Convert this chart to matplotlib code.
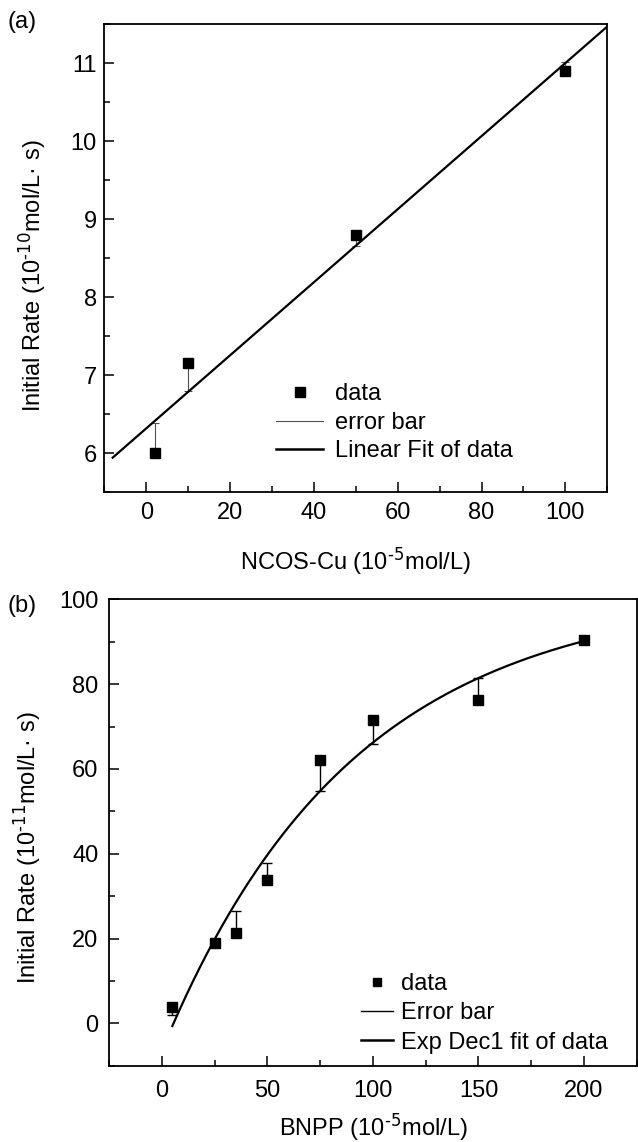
import numpy as np
import matplotlib
matplotlib.use("Agg")
import matplotlib.pyplot as plt
from matplotlib.lines import Line2D
from matplotlib.ticker import MultipleLocator

plt.rcParams['font.family'] = ['Liberation Sans', 'DejaVu Sans']
plt.rcParams['mathtext.default'] = 'regular'

# ---------------- data: panel (a) ----------------
conc_a = [2, 10, 50, 100]
rate_a = [6.0, 7.15, 8.8, 10.9]
err_end_a = [6.39, 6.79, 8.65, 11.01]
fit_range_a = [-8, 110]
legend_a = ["data", "error bar", "Linear Fit of data"]
xlabel_a = r"NCOS-Cu (10$^{\text{-5}}$mol/L)"
ylabel_a = r"Initial Rate (10$^{\text{-10}}$mol/L· s)"
xticks_a = [0, 20, 40, 60, 80, 100]
yticks_a = [6, 7, 8, 9, 10, 11]

# ---------------- data: panel (b) ----------------
conc_b = [5, 25, 35, 50, 75, 100, 150, 200]
rate_b = [3.9, 18.9, 21.4, 33.8, 62.1, 71.5, 76.3, 90.4]
err_end_b = [1.9, 18.9, 26.4, 37.9, 54.8, 65.8, 81.4, 90.4]
fit_range_b = [5, 200]
expdec_y0 = 101.9
expdec_A = 108.4
expdec_t = 90.0
legend_b = ["data", "Error bar", "Exp Dec1 fit of data"]
xlabel_b = r"BNPP (10$^{\text{-5}}$mol/L)"
ylabel_b = r"Initial Rate (10$^{\text{-11}}$mol/L· s)"
xticks_b = [0, 50, 100, 150, 200]
yticks_b = [0, 20, 40, 60, 80, 100]

W, H = 638, 1142
fig = plt.figure(figsize=(W / 100, H / 100), dpi=100)

FS = 17


def px_axes(l, t, r, b):
    return fig.add_axes([l / W, 1 - b / H, (r - l) / W, (b - t) / H])


def style(ax, xpad, ypad):
    for s in ax.spines.values():
        s.set_linewidth(1.3)
    ax.tick_params(which='both', direction='in', top=False, right=False,
                   labelsize=FS, width=1.1)
    ax.tick_params(which='major', length=7.2)
    ax.tick_params(which='minor', length=4)
    ax.tick_params(axis='x', pad=xpad)
    ax.tick_params(axis='y', pad=ypad)


def errbars(ax, x, y, end, color, lw, cap):
    y = np.asarray(y)
    end = np.asarray(end)
    lower = np.clip(y - end, 0, None)
    upper = np.clip(end - y, 0, None)
    ax.errorbar(x, y, yerr=[lower, upper], fmt='none', ecolor=color,
                elinewidth=lw, capsize=cap, capthick=lw, zorder=2)


# ---------------- panel (a) ----------------
ax1 = px_axes(104.3, 24, 607.3, 492)
ax1.set_xlim(-10, 110)
ax1.set_ylim(5.5, 11.5)
ax1.set_xticks(xticks_a)
ax1.set_yticks(yticks_a)
ax1.xaxis.set_minor_locator(MultipleLocator(10))
ax1.yaxis.set_minor_locator(MultipleLocator(0.5))
style(ax1, 7, 5.5)

slope, icpt = np.polyfit(conc_a, rate_a, 1)
xf = np.array(fit_range_a, dtype=float)
ax1.plot(xf, icpt + slope * xf, color='black', lw=1.6, zorder=3)
errbars(ax1, conc_a, rate_a, err_end_a, '#505050', 0.8, 3)
ax1.plot(conc_a, rate_a, 's', color='black', ms=7.2, zorder=4)

h1 = [Line2D([], [], ls='none', marker='s', color='black', ms=7),
      Line2D([], [], color='#505050', lw=0.8),
      Line2D([], [], color='black', lw=1.8)]
ax1.legend(h1, legend_a, loc='upper left', bbox_to_anchor=(0.3414, 0.232),
           frameon=False, fontsize=FS, handlelength=2.0, handletextpad=0.5,
           labelspacing=0.27, borderpad=0, borderaxespad=0)

ax1.set_xlabel(xlabel_a, fontsize=FS, va='center')
ax1.xaxis.set_label_coords(0.5, (492 - 561) / 468)
ax1.set_ylabel(ylabel_a, fontsize=FS, va='center')
ax1.yaxis.set_label_coords((32 - 104.3) / 503, (492 - 276) / 468)
fig.text(22 / W, 1 - 22 / H, "(a)", fontsize=FS, ha='center', va='center')

# ---------------- panel (b) ----------------
ax2 = px_axes(109, 599.3, 636.8, 1065.7)
ax2.set_xlim(-25, 225)
ax2.set_ylim(-10, 100)
ax2.set_xticks(xticks_b)
ax2.set_yticks(yticks_b)
ax2.xaxis.set_minor_locator(MultipleLocator(25))
ax2.yaxis.set_minor_locator(MultipleLocator(10))
style(ax2, 10, 7.7)

xc = np.linspace(fit_range_b[0], fit_range_b[1], 300)
ax2.plot(xc, expdec_y0 - expdec_A * np.exp(-xc / expdec_t), color='black',
         lw=1.6, zorder=3)
errbars(ax2, conc_b, rate_b, err_end_b, 'black', 1.0, 3.6)
ax2.plot(conc_b, rate_b, 's', color='black', ms=6.8, zorder=4)

h2 = [Line2D([], [], ls='none', marker='s', color='black', ms=5.5),
      Line2D([], [], color='black', lw=1.0),
      Line2D([], [], color='black', lw=1.8)]
ax2.legend(h2, legend_b, loc='upper left', bbox_to_anchor=(0.477, 0.199),
           frameon=False, fontsize=FS, handlelength=1.38, handletextpad=0.33,
           labelspacing=0.31, borderpad=0, borderaxespad=0)

ax2.set_xlabel(xlabel_b, fontsize=FS, va='center')
ax2.xaxis.set_label_coords(0.5, (1065.7 - 1127) / 466.4)
ax2.set_ylabel(ylabel_b, fontsize=FS, va='center')
ax2.yaxis.set_label_coords((27 - 109) / 527.8, (1065.7 - 848) / 466.4)
fig.text(22 / W, 1 - 606 / H, "(b)", fontsize=FS, ha='center', va='center')

fig.savefig("out.png", dpi=100)
